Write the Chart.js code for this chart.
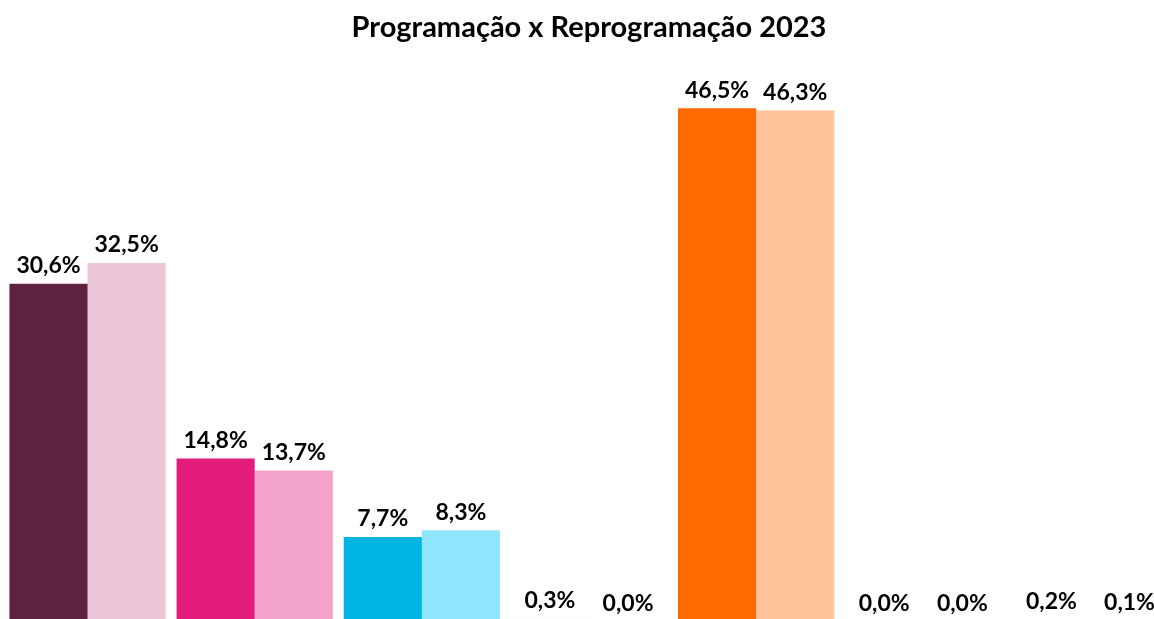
<!DOCTYPE html>
<html>
<head>
<meta charset="utf-8">
<script src="https://cdn.jsdelivr.net/npm/chart.js@4"></script>
<style>
  html, body { margin: 0; padding: 0; background: #fff; overflow: hidden; }
  canvas { display: block; }
</style>
</head>
<body>
<canvas id="barChart" width="1178" height="625"></canvas>
<script>
// categorias (grupos de barras)
const categorias = ["Grupo 1", "Grupo 2", "Grupo 3", "Grupo 4", "Grupo 5", "Grupo 6", "Grupo 7"];
const programacao = [30.6, 14.8, 7.7, 0.3, 46.5, 0.0, 0.2];
const reprogramacao = [32.5, 13.7, 8.3, 0.0, 46.3, 0.0, 0.1];
const coresProgramacao = ["#5E2140", "#E31C79", "#00B5E2", "#F2F2F2", "#FF6A00", "#F2F2F2", "#F2F2F2"];
const coresReprogramacao = ["#EBC6D9", "#F3A3C9", "#8FE5FD", "#F2F2F2", "#FFC299", "#F2F2F2", "#F2F2F2"];

const fmt = (v) => v.toFixed(1).replace(".", ",") + "%";

// rótulos de valor acima das barras
const rotulos = {
  id: "rotulos",
  afterDatasetsDraw(chart) {
    const ctx = chart.ctx;
    ctx.save();
    ctx.font = "bold 23px Lato";
    ctx.fillStyle = "#000";
    ctx.textAlign = "center";
    ctx.textBaseline = "middle";
    chart.data.datasets.forEach((ds, i) => {
      chart.getDatasetMeta(i).data.forEach((bar, j) => {
        ctx.fillText(fmt(ds.data[j]), bar.x, bar.y - 18);
      });
    });
    ctx.restore();
  },
};

let ctx = document.getElementById("barChart").getContext("2d");
let myChart = new Chart(ctx, {
  type: "bar",
  data: {
    labels: categorias,
    datasets: [
      {
        label: "Programação",
        data: programacao,
        backgroundColor: coresProgramacao,
        borderWidth: 0,
      },
      {
        label: "Reprogramação",
        data: reprogramacao,
        backgroundColor: coresReprogramacao,
        borderWidth: 0,
      },
    ],
  },
  options: {
    responsive: false,
    animation: false,
    categoryPercentage: 0.935,
    barPercentage: 1.0,
    layout: { padding: { left: 4, right: 4, top: 0, bottom: 3 } },
    plugins: {
      legend: { display: false },
      tooltip: { enabled: false },
      title: {
        display: true,
        text: "Programação x Reprogramação 2023",
        color: "#000",
        font: { family: "Lato", size: 29, weight: "bold", lineHeight: 1.1 },
        padding: { top: 12, bottom: 25.6 },
      },
    },
    scales: {
      x: { display: false },
      y: { display: false, min: 0, max: 50 },
    },
  },
  plugins: [rotulos],
});
</script>
</body>
</html>
